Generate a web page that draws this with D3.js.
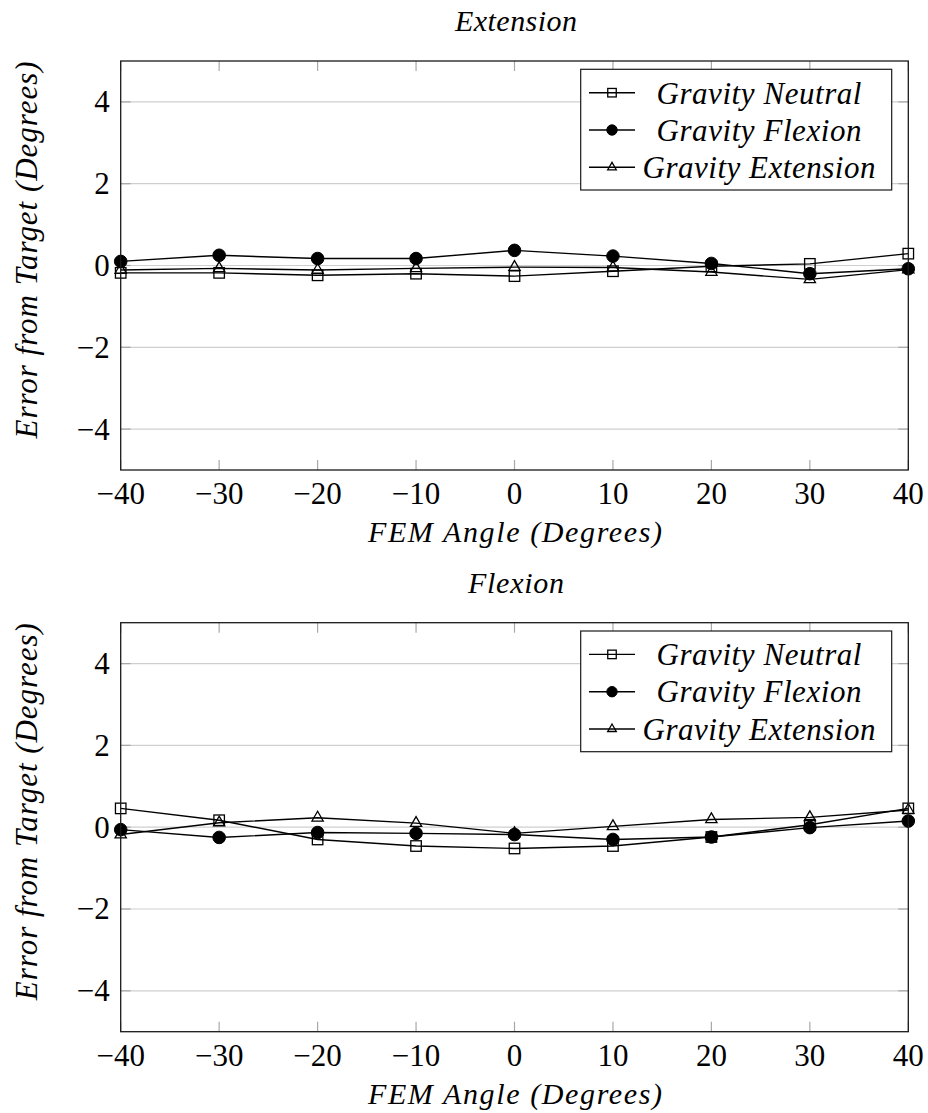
<!DOCTYPE html>
<html>
<head>
<meta charset="utf-8">
<script src="https://cdn.jsdelivr.net/npm/d3@7"></script>
</head>
<body style="margin:0">
<svg id="chart" width="928" height="1113" font-family="Liberation Serif"></svg>
<script>
// ---------- data ----------
const angles = [-40, -30, -20, -10, 0, 10, 20, 30, 40];
const xTicks = [-40, -30, -20, -10, 0, 10, 20, 30, 40];
const yTicks = [-4, -2, 0, 2, 4];
const seriesNames = ["Gravity Neutral", "Gravity Flexion", "Gravity Extension"];
const panelTitles = ["Extension", "Flexion"];

// Extension panel
const extNeutral   = [-0.18, -0.18, -0.24, -0.20, -0.26, -0.14, -0.02, 0.04, 0.29];
const extFlexion   = [0.10, 0.25, 0.17, 0.17, 0.37, 0.23, 0.05, -0.20, -0.08];
const extExtension = [-0.11, -0.07, -0.11, -0.07, -0.04, -0.05, -0.16, -0.34, -0.10];

// Flexion panel
const flxNeutral   = [0.46, 0.17, -0.30, -0.46, -0.52, -0.46, -0.24, 0.06, 0.46];
const flxFlexion   = [-0.06, -0.25, -0.13, -0.15, -0.18, -0.30, -0.24, -0.01, 0.15];
const flxExtension = [-0.18, 0.11, 0.23, 0.10, -0.15, 0.02, 0.19, 0.24, 0.42];

const xLabel = "FEM Angle (Degrees)";
const yLabel = "Error from Target (Degrees)";

// ---------- drawing ----------
const svg = d3.select("#chart");
const markerTypes = ["square", "circle", "triangle"];

function drawMarker(g, type, cx, cy, big) {
  if (type === "circle") {
    g.append("circle").attr("cx", cx).attr("cy", cy).attr("r", big ? 6.3 : 5.2)
      .attr("fill", "#000").attr("stroke", "#000").attr("stroke-width", 1);
  } else if (type === "square") {
    const s = big ? 10.5 : 8.5;
    g.append("rect").attr("x", cx - s / 2).attr("y", cy - s / 2).attr("width", s).attr("height", s)
      .attr("fill", "none").attr("stroke", "#000").attr("stroke-width", 1.3);
  } else {
    const size = big ? 55 : 32;
    g.append("path").attr("d", d3.symbol().type(d3.symbolTriangle).size(size)())
      .attr("transform", `translate(${cx},${cy})`)
      .attr("fill", "none").attr("stroke", "#000").attr("stroke-width", 1.3);
  }
}

function addText(parent, str, size, italic) {
  return parent.append("text")
    .style("font-family", '"Liberation Serif"')
    .style("font-size", size + "px")
    .style("font-style", italic ? "italic" : "normal")
    .attr("fill", "#000")
    .text(str);
}

// widen text to a target width with letter-spacing (LaTeX math italic is spaced out)
function fitWidth(sel, target) {
  const n = sel.text().length;
  const w = sel.node().getComputedTextLength();
  if (n > 1 && w < target) {
    const ls = (target - w) / (n - 1);
    sel.style("letter-spacing", ls + "px");
    const anchor = sel.attr("text-anchor");
    if (anchor === "middle") sel.attr("dx", ls / 2);
  }
  return sel;
}

function drawPanel(offsetY, title, titleLen, series) {
  const g = svg.append("g").attr("transform", `translate(0,${offsetY})`);
  const x = d3.scaleLinear().domain([-40, 40]).range([120.7, 908.3]);
  const y = d3.scaleLinear().domain([-5, 5]).range([470, 61]);
  const left = x(-40), right = x(40), top = y(5), bottom = y(-5);

  // grid
  g.append("g").selectAll("line").data(yTicks).join("line")
    .attr("x1", left).attr("x2", right)
    .attr("y1", d => y(d)).attr("y2", d => y(d))
    .attr("stroke", "#cfcfcf").attr("stroke-width", 1.2);

  // inward tick marks on all sides
  const tk = g.append("g").attr("stroke", "#a8a8a8").attr("stroke-width", 1.2);
  tk.selectAll(".xb").data(xTicks).join("line")
    .attr("x1", d => x(d)).attr("x2", d => x(d)).attr("y1", bottom).attr("y2", bottom - 10);
  tk.selectAll(".xt").data(xTicks).join("line")
    .attr("x1", d => x(d)).attr("x2", d => x(d)).attr("y1", top).attr("y2", top + 10);
  tk.selectAll(".yl").data(yTicks).join("line")
    .attr("y1", d => y(d)).attr("y2", d => y(d)).attr("x1", left).attr("x2", left + 10);
  tk.selectAll(".yr").data(yTicks).join("line")
    .attr("y1", d => y(d)).attr("y2", d => y(d)).attr("x1", right).attr("x2", right - 10);

  // tick labels (positions from the scales)
  const fmt = d3.format("d");
  xTicks.forEach(t => {
    addText(g, fmt(t), 31, false).attr("x", x(t)).attr("y", bottom + 34).attr("text-anchor", "middle");
  });
  yTicks.forEach(t => {
    addText(g, fmt(t), 31, false).attr("x", left - 11).attr("y", y(t) + 10.5).attr("text-anchor", "end");
  });

  // series lines and markers
  const line = d3.line().x((d, i) => x(angles[i])).y(d => y(d));
  series.forEach((vals, si) => {
    const sg = g.append("g");
    sg.append("path").attr("d", line(vals)).attr("fill", "none")
      .attr("stroke", "#000").attr("stroke-width", 1.4);
    vals.forEach((v, i) => drawMarker(sg, markerTypes[si], x(angles[i]), y(v), true));
  });

  // frame
  g.append("rect").attr("x", left).attr("y", top).attr("width", right - left).attr("height", bottom - top)
    .attr("fill", "none").attr("stroke", "#1a1a1a").attr("stroke-width", 1.3);

  // legend
  const lg = g.append("g");
  lg.append("rect").attr("x", 580.7).attr("y", 69.3).attr("width", 311).attr("height", 120.7)
    .attr("fill", "#fff").attr("stroke", "#1a1a1a").attr("stroke-width", 1.2);
  const rowY = [92.7, 130, 167.3];
  const textW = [205, 205, 233];
  seriesNames.forEach((name, i) => {
    lg.append("line").attr("x1", 589).attr("x2", 635).attr("y1", rowY[i]).attr("y2", rowY[i])
      .attr("stroke", "#000").attr("stroke-width", 1.4);
    drawMarker(lg, markerTypes[i], 612, rowY[i], false);
    addText(lg, name, 31, true).attr("x", 759).attr("y", rowY[i] + 10.8)
      .attr("text-anchor", "middle").call(fitWidth, textW[i]);
  });

  // titles and axis labels
  addText(g, title, 30, true).attr("x", 516).attr("y", 31).attr("text-anchor", "middle")
    .call(fitWidth, titleLen);
  addText(g, xLabel, 30, true).attr("x", 515).attr("y", 542).attr("text-anchor", "middle")
    .call(fitWidth, 294);
  addText(g, yLabel, 31, true).attr("transform", `translate(37,250) rotate(-90)`).attr("text-anchor", "middle")
    .call(fitWidth, 377);
}

drawPanel(0, panelTitles[0], 122, [extNeutral, extFlexion, extExtension]);
drawPanel(561.7, panelTitles[1], 96, [flxNeutral, flxFlexion, flxExtension]);
</script>
</body>
</html>
